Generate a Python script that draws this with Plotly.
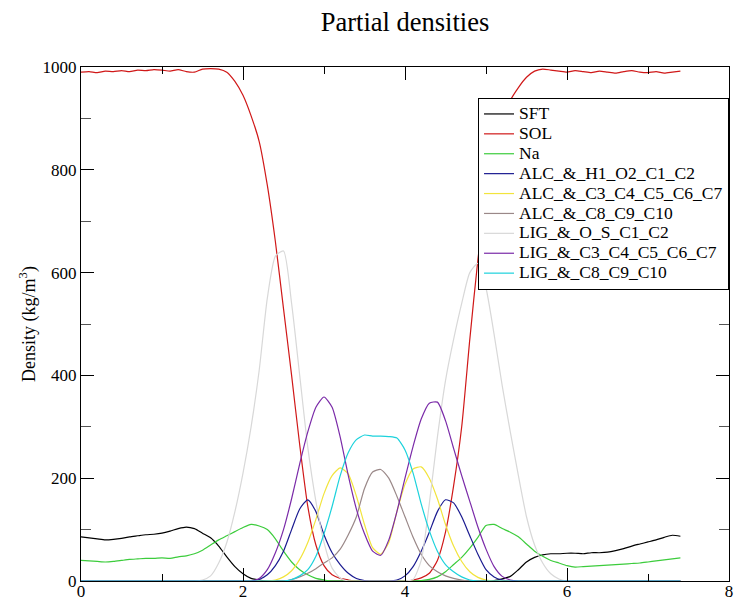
import plotly.graph_objects as go

X = [0.0, 0.1, 0.2, 0.3, 0.4, 0.5, 0.6, 0.7, 0.8, 0.9,
     1.0, 1.1, 1.2, 1.3, 1.4, 1.5, 1.6, 1.7, 1.8, 1.9,
     2.0, 2.1, 2.2, 2.3, 2.4, 2.5, 2.6, 2.7, 2.8, 2.9,
     3.0, 3.1, 3.2, 3.3, 3.4, 3.5, 3.6, 3.7, 3.8, 3.9,
     4.0, 4.1, 4.2, 4.3, 4.4, 4.5, 4.6, 4.7, 4.8, 4.9,
     5.0, 5.1, 5.2, 5.3, 5.4, 5.5, 5.6, 5.7, 5.8, 5.9,
     6.0, 6.1, 6.2, 6.3, 6.4, 6.5, 6.6, 6.7, 6.8, 6.9,
     7.0, 7.1, 7.2, 7.3, 7.4]

SFT = [86, 84, 82, 80, 81, 83, 86, 88, 90, 91,
       93, 97, 102, 105, 102, 93, 84, 68, 47, 28,
       14, 5, 2, 0, 0, 0, 0, 0, 0, 0,
       0, 0, 0, 0, 0, 0, 0, 0, 0, 0,
       0, 0, 0, 0, 0, 0, 0, 0, 0, 0,
       0, 1, 4, 9, 22, 37, 46, 51, 53, 53,
       54, 54, 53, 55, 55, 56, 59, 63, 68, 72,
       76, 80, 85, 89, 87]

SOL = [990, 991, 989, 992, 991, 993, 991, 994, 993, 995,
       994, 992, 995, 991, 990, 996, 997, 996, 990, 972,
       945, 905, 855, 770, 660, 530, 400, 265, 145, 70,
       30, 12, 5, 2, 0, 0, 0, 0, 0, 0,
       0, 2, 6, 15, 40, 95, 185, 300, 470, 625,
       745, 835, 895, 935, 960, 980, 992, 996, 994, 992,
       990, 993, 991, 989, 992, 990, 988, 991, 993, 990,
       989, 991, 988, 990, 992]

NA = [40, 39, 38, 37, 38, 40, 42, 43, 44, 44,
      45, 44, 47, 49, 53, 60, 70, 80, 88, 96,
      104, 110, 107, 100, 82, 58, 37, 22, 12, 5,
      2, 0, 0, 0, 0, 0, 0, 0, 0, 0,
      0, 0, 1, 3, 8, 18, 32, 46, 64, 85,
      108, 110, 102, 95, 86, 72, 58, 48, 40, 35,
      30, 27, 28, 29, 30, 31, 32, 33, 34, 35,
      37, 39, 41, 43, 45]

ALC_H1 = [0, 0, 0, 0, 0, 0, 0, 0, 0, 0,
          0, 0, 0, 0, 0, 0, 0, 0, 0, 0,
          0, 0, 3, 12, 30, 58, 100, 140, 158, 135,
          90, 55, 32, 15, 5, 1, 0, 0, 0, 2,
          10, 28, 58, 95, 135, 158, 152, 125, 88, 52,
          22, 8, 2, 0, 0, 0, 0, 0, 0, 0,
          0, 0, 0, 0, 0, 0, 0, 0, 0, 0,
          0, 0, 0, 0, 0]

ALC_C3 = [0, 0, 0, 0, 0, 0, 0, 0, 0, 0,
          0, 0, 0, 0, 0, 0, 0, 0, 0, 0,
          0, 0, 0, 0, 2, 8, 20, 42, 75, 120,
          170, 205, 220, 208, 165, 110, 65, 52, 75, 135,
          188, 218, 222, 200, 160, 110, 68, 38, 18, 7,
          2, 0, 0, 0, 0, 0, 0, 0, 0, 0,
          0, 0, 0, 0, 0, 0, 0, 0, 0, 0,
          0, 0, 0, 0, 0]

ALC_C8 = [0, 0, 0, 0, 0, 0, 0, 0, 0, 0,
          0, 0, 0, 0, 0, 0, 0, 0, 0, 0,
          0, 0, 0, 0, 0, 0, 3, 8, 15, 24,
          35, 45, 62, 90, 125, 180, 212, 217, 200, 165,
          125, 85, 52, 30, 18, 10, 5, 2, 0, 0,
          0, 0, 0, 0, 0, 0, 0, 0, 0, 0,
          0, 0, 0, 0, 0, 0, 0, 0, 0, 0,
          0, 0, 0, 0, 0]

LIG_OS = [0, 0, 0, 0, 0, 0, 0, 0, 0, 0,
          0, 0, 0, 0, 0, 2, 10, 35, 75, 135,
          210, 300, 410, 550, 632, 642, 540, 400, 260, 155,
          75, 25, 6, 0, 0, 0, 0, 0, 0, 0,
          0, 3, 40, 150, 280, 390, 470, 540, 600, 618,
          570, 480, 380, 290, 205, 125, 70, 35, 14, 4,
          0, 0, 0, 0, 0, 0, 0, 0, 0, 0,
          0, 0, 0, 0, 0]

LIG_C3 = [0, 0, 0, 0, 0, 0, 0, 0, 0, 0,
          0, 0, 0, 0, 0, 0, 0, 0, 0, 0,
          0, 0, 5, 22, 55, 100, 160, 228, 290, 338,
          358, 338, 280, 205, 140, 92, 58, 50, 80, 135,
          200, 262, 315, 346, 348, 312, 258, 205, 155, 105,
          62, 28, 9, 2, 0, 0, 0, 0, 0, 0,
          0, 0, 0, 0, 0, 0, 0, 0, 0, 0,
          0, 0, 0, 0, 0]

LIG_C8 = [0, 0, 0, 0, 0, 0, 0, 0, 0, 0,
          0, 0, 0, 0, 0, 0, 0, 0, 0, 0,
          0, 0, 0, 0, 0, 0, 3, 10, 22, 48,
          92, 145, 205, 250, 275, 284, 282, 282, 281, 278,
          255, 210, 150, 98, 58, 32, 18, 8, 2, 0,
          0, 0, 0, 0, 0, 0, 0, 0, 0, 0,
          0, 0, 0, 0, 0, 0, 0, 0, 0, 0,
          0, 0, 0, 0, 0]

NAMES = ["SFT", "SOL", "Na", "ALC_&_H1_O2_C1_C2", "ALC_&_C3_C4_C5_C6_C7",
         "ALC_&_C8_C9_C10", "LIG_&_O_S_C1_C2", "LIG_&_C3_C4_C5_C6_C7",
         "LIG_&_C8_C9_C10"]
SERIES = [SFT, SOL, NA, ALC_H1, ALC_C3, ALC_C8, LIG_OS, LIG_C3, LIG_C8]
COLORS = ["#000000", "#d01818", "#3ccc3c", "#1a1a90", "#f2e43c",
          "#9a8888", "#d8d8d8", "#7a2aa8", "#1cd2dc"]

X_TICKS = [0, 2, 4, 6, 8]
Y_TICKS = [0, 200, 400, 600, 800, 1000]

FONT = "Liberation Serif"

fig = go.Figure()
for name, ys, col in zip(NAMES, SERIES, COLORS):
    fig.add_trace(go.Scatter(
        x=X, y=ys, mode="lines",
        name='<span style="font-size:17.5px">' + name.replace("&", "&amp;") + "</span>",
        line=dict(color=col, width=1.2, shape="spline", smoothing=0.6)))

axis_common = dict(
    showline=True, linecolor="black", linewidth=1.2, mirror="ticks",
    ticks="inside", ticklen=13, tickwidth=1, tickcolor="black",
    showgrid=False, zeroline=False, automargin=False,
    tickfont=dict(family=FONT, size=17, color="black"),
)

fig.update_xaxes(range=[0, 8], tickvals=X_TICKS, ticktext=[str(v) for v in X_TICKS],
                 ticklabelstandoff=-6,
                 minor=dict(ticks="inside", ticklen=7, dtick=1, tickcolor="black", showgrid=False),
                 **axis_common)
fig.update_yaxes(range=[0, 1000], tickvals=Y_TICKS, ticktext=[str(v) for v in Y_TICKS],
                 minor=dict(ticks="inside", ticklen=10, dtick=100, tickcolor="#555555", showgrid=False),
                 title=dict(text="Density (kg/m<sup>3</sup>)", font=dict(family=FONT, size=18, color="black"),
                            standoff=2),
                 **axis_common)

fig.update_layout(
    width=735, height=603,
    margin=dict(l=81, r=6, t=67, b=22),
    paper_bgcolor="white", plot_bgcolor="white",
    title=dict(text="Partial densities", x=0.551, xref="container", xanchor="center",
               y=0.9635, yanchor="middle", font=dict(family=FONT, size=26.5, color="black")),
    font=dict(family=FONT, color="black"),
    showlegend=True,
    legend=dict(x=0.6127, y=0.9397, xanchor="left", yanchor="top",
                bgcolor="white", bordercolor="black", borderwidth=1,
                font=dict(family=FONT, size=13, color="black"),
                itemwidth=30, tracegroupgap=0),
)

# remove the default page margin so the 735x603 figure fills the window exactly
fig.write_html("out.html", config={"displayModeBar": False},
               post_script="document.body.style.margin='0';document.body.style.overflow='hidden';")
